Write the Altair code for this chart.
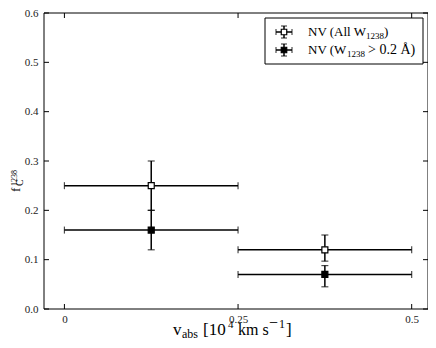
import altair as alt
import pandas as pd

# ---- data ----
v_center = [0.125, 0.375]
v_lo = [0.0, 0.25]
v_hi = [0.25, 0.5]
all_f = [0.25, 0.12]
all_lo = [0.20, 0.097]
all_hi = [0.30, 0.15]
strong_f = [0.16, 0.07]
strong_lo = [0.12, 0.045]
strong_hi = [0.20, 0.088]

x_ticks = [0.0, 0.25, 0.5]
y_ticks = [0.0, 0.1, 0.2, 0.3, 0.4, 0.5, 0.6]

W, H = 384, 296
FONT = "Liberation Serif"

rows = []
for i in range(len(v_center)):
    rows.append(dict(series="all", v=v_center[i], vlo=v_lo[i], vhi=v_hi[i],
                     f=all_f[i], flo=all_lo[i], fhi=all_hi[i]))
    rows.append(dict(series="strong", v=v_center[i], vlo=v_lo[i], vhi=v_hi[i],
                     f=strong_f[i], flo=strong_lo[i], fhi=strong_hi[i]))
df = pd.DataFrame(rows)

xs = alt.Scale(domain=[-0.0294, 0.5235], nice=False, zero=False)
ys = alt.Scale(domain=[0, 0.6], nice=False, zero=False)

VCAP = "M0,-1L0,1"
HCAP = "M-1,0L1,0"

base = alt.Chart(df)

hbar = base.mark_rule(color="black", strokeWidth=1.5).encode(
    x=alt.X("vlo:Q", scale=xs, axis=alt.Axis(values=x_ticks, format="~g", ticks=False, domain=False,
                                             grid=False, title=None, labelFont=FONT, labelFontSize=11,
                                             labelColor="#222", labelPadding=4)),
    x2="vhi:Q",
    y=alt.Y("f:Q", scale=ys, axis=alt.Axis(values=y_ticks, format=".1f", ticks=False, domain=False,
                                           grid=False, title=None, labelFont=FONT, labelFontSize=11,
                                           labelColor="#222", labelPadding=6)),
)
vbar = base.mark_rule(color="black", strokeWidth=1.5).encode(
    x=alt.X("v:Q", scale=xs), y=alt.Y("flo:Q", scale=ys), y2="fhi:Q")

caps = []
for fx, fy, shp in [("vlo", "f", VCAP), ("vhi", "f", VCAP), ("v", "flo", HCAP), ("v", "fhi", HCAP)]:
    caps.append(base.mark_point(shape=shp, size=49, color="black", strokeWidth=1.2, filled=False).encode(
        x=alt.X(f"{fx}:Q", scale=xs), y=alt.Y(f"{fy}:Q", scale=ys)))

pts = base.mark_point(shape="square", size=36, stroke="black", strokeWidth=1.2, opacity=1).encode(
    x=alt.X("v:Q", scale=xs), y=alt.Y("f:Q", scale=ys),
    fill=alt.Fill("series:N", scale=alt.Scale(domain=["all", "strong"], range=["white", "black"]), legend=None))

one = alt.Chart(pd.DataFrame({"a": [0]}))

# frame
frame = one.mark_rect(fill="transparent", stroke="black", strokeWidth=1).encode(
    x=alt.value(0), x2=alt.value(W), y=alt.value(0), y2=alt.value(H))

# inward ticks (mirrored on all four sides)
xt = alt.Chart(pd.DataFrame({"t": x_ticks}))
yt = alt.Chart(pd.DataFrame({"t": y_ticks}))
ticks = [
    xt.mark_rule(color="black").encode(x=alt.X("t:Q", scale=xs), y=alt.value(H), y2=alt.value(H - 5)),
    xt.mark_rule(color="black").encode(x=alt.X("t:Q", scale=xs), y=alt.value(0), y2=alt.value(5)),
    yt.mark_rule(color="black").encode(y=alt.Y("t:Q", scale=ys), x=alt.value(0), x2=alt.value(5)),
    yt.mark_rule(color="black").encode(y=alt.Y("t:Q", scale=ys), x=alt.value(W), x2=alt.value(W - 5)),
]


def txt(s, x, y, size, angle=0, align="left", baseline="alphabetic"):
    kw = dict(text=s, font=FONT, fontSize=size, color="black", align=align, baseline=baseline)
    if angle:
        kw["angle"] = angle
    return one.mark_text(**kw).encode(x=alt.value(x), y=alt.value(y))

# axis titles
TY = 322
titles = [
    txt("v", 129, TY, 17),
    txt("abs", 138, TY + 3, 12),
    txt("[10", 159, TY, 17),
    txt("4", 184, TY - 7, 11),
    txt("km s", 194, TY, 16),
    txt("\u2212", 225, TY - 7, 16),
    txt("1", 235, TY - 7, 12),
    txt("]", 242, TY, 17),
    txt("f", -24, 179, 13, angle=270),
    txt("C", -21, 173, 10, angle=270),
    txt("1238", -27, 173, 8, angle=270),
]

# legend
LX0, LX1, LY0, LY1 = 221, 379, 5, 51
legend = [
    one.mark_rect(fill="white", stroke="black", strokeWidth=1).encode(
        x=alt.value(LX0), x2=alt.value(LX1), y=alt.value(LY0), y2=alt.value(LY1)),
]
for ry, fillc in [(19, "white"), (37, "black")]:
    cx = 240
    legend += [
        one.mark_rule(color="black", strokeWidth=1.5).encode(x=alt.value(cx - 8), x2=alt.value(cx + 8), y=alt.value(ry)),
        one.mark_rule(color="black", strokeWidth=1.5).encode(x=alt.value(cx), y=alt.value(ry - 6), y2=alt.value(ry + 6)),
        one.mark_point(shape=VCAP, size=36, color="black", strokeWidth=1.2).encode(x=alt.value(cx - 8), y=alt.value(ry)),
        one.mark_point(shape=VCAP, size=36, color="black", strokeWidth=1.2).encode(x=alt.value(cx + 8), y=alt.value(ry)),
        one.mark_point(shape=HCAP, size=36, color="black", strokeWidth=1.2).encode(x=alt.value(cx), y=alt.value(ry - 6)),
        one.mark_point(shape=HCAP, size=36, color="black", strokeWidth=1.2).encode(x=alt.value(cx), y=alt.value(ry + 6)),
        one.mark_point(shape="square", size=30, stroke="black", fill=fillc, strokeWidth=1.2, opacity=1).encode(
            x=alt.value(cx), y=alt.value(ry)),
    ]
legend += [
    txt("NV (All W", 264, 23, 13),
    txt("1238", 322, 26, 9),
    txt(")", 340, 23, 13),
    txt("NV (W", 264, 41, 13),
    txt("1238", 303, 44, 9),
    txt("> 0.2 \u00c5)", 324, 41, 14),
]

chart = alt.layer(hbar, vbar, *caps, pts, frame, *ticks, *titles, *legend).properties(
    width=W, height=H,
    autosize=alt.AutoSizeParams(type="none"),
    padding={"left": 36, "top": 5, "right": 0, "bottom": 31},
).configure(background="white").configure_view(strokeOpacity=0)

chart.save("out.html", embed_options={"renderer": "svg", "actions": False})
